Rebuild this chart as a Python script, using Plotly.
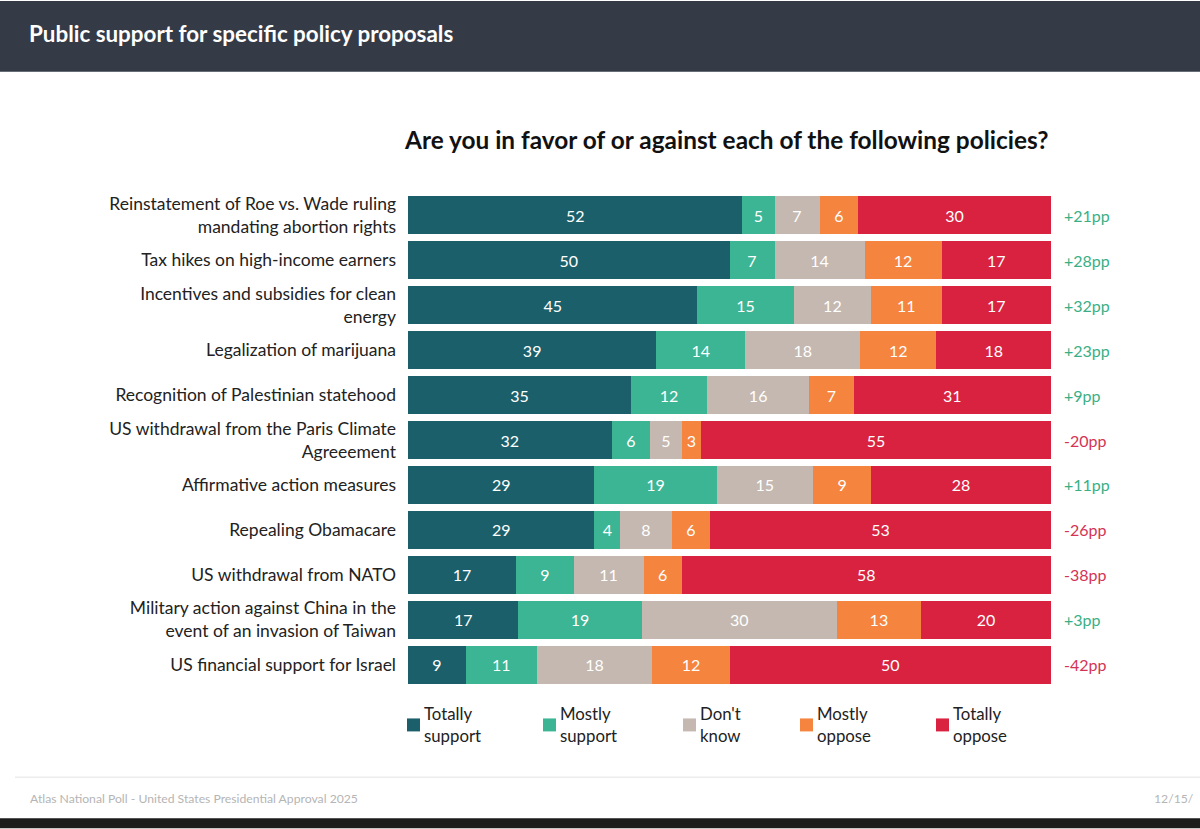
import plotly.graph_objects as go

# ---------------- data ----------------
policies = [
    "Reinstatement of Roe vs. Wade ruling<br>mandating abortion rights",
    "Tax hikes on high-income earners",
    "Incentives and subsidies for clean<br>energy",
    "Legalization of marijuana",
    "Recognition of Palestinian statehood",
    "US withdrawal from the Paris Climate<br>Agreeement",
    "Affirmative action measures",
    "Repealing Obamacare",
    "US withdrawal from NATO",
    "Military action against China in the<br>event of an invasion of Taiwan",
    "US financial support for Israel",
]
totally_support = [52, 50, 45, 39, 35, 32, 29, 29, 17, 17, 9]
mostly_support  = [5, 7, 15, 14, 12, 6, 19, 4, 9, 19, 11]
dont_know       = [7, 14, 12, 18, 16, 5, 15, 8, 11, 30, 18]
mostly_oppose   = [6, 12, 11, 12, 7, 3, 9, 6, 6, 13, 12]
totally_oppose  = [30, 17, 17, 18, 31, 55, 28, 53, 58, 20, 50]
net_pp          = [21, 28, 32, 23, 9, -20, 11, -26, -38, 3, -42]

series_names = ["Totally support", "Mostly support", "Don't know", "Mostly oppose", "Totally oppose"]
series_values = [totally_support, mostly_support, dont_know, mostly_oppose, totally_oppose]
series_colors = ["#1b5f6b", "#3bb594", "#c4b8b0", "#f5843e", "#d9223f"]

# ---------------- layout geometry (pixels) ----------------
W, H = 1200, 829
PL, PR = 408, 1051
PT, PB = 192.5, 687.5
FONT = "Lato"


def px(x):
    return (x - PL) / (PR - PL)


def py(y):
    return (PB - y) / (PB - PT)


fig = go.Figure()
for name, vals, col in zip(series_names, series_values, series_colors):
    fig.add_trace(go.Bar(
        y=policies, x=vals, name=name, orientation="h",
        marker=dict(color=col, line=dict(width=0)),
        text=vals, texttemplate="%{text}", textposition="inside",
        insidetextanchor="middle", textangle=0,
        textfont=dict(family=FONT, size=16, color="white"),
        showlegend=False, hoverinfo="skip",
    ))

annotations = []
shapes = []

# net labels
for pol, n in zip(policies, net_pp):
    annotations.append(dict(
        x=px(1062), y=pol, xref="paper", yref="y",
        text=("+%dpp" % n) if n > 0 else ("%dpp" % n),
        showarrow=False, xanchor="left", yanchor="middle",
        font=dict(family=FONT, size=16, color="#3aaf85" if n > 0 else "#d43355"),
    ))

# header bar
shapes.append(dict(type="rect", xref="paper", yref="paper",
                   x0=px(0), x1=px(W), y0=py(71), y1=py(0),
                   fillcolor="#343b47", line=dict(width=0), layer="below"))
annotations.append(dict(x=px(27), y=py(33), xref="paper", yref="paper",
                        text="<b>Public support for specific policy proposals</b>",
                        showarrow=False, xanchor="left", yanchor="middle",
                        font=dict(family=FONT, size=22.4, color="white")))

# chart title
annotations.append(dict(x=px(725.5), y=py(139), xref="paper", yref="paper",
                        text="<b>Are you in favor of or against each of the following policies?</b>",
                        showarrow=False, xanchor="center", yanchor="middle",
                        font=dict(family=FONT, size=24.4, color="#111111")))

# legend (manual)
legend_x = [407, 543, 683, 800, 936]
for lx, name, col in zip(legend_x, series_names, series_colors):
    shapes.append(dict(type="rect", xref="paper", yref="paper",
                       x0=px(lx), x1=px(lx + 13), y0=py(732), y1=py(719),
                       fillcolor=col, line=dict(width=0)))
    annotations.append(dict(x=px(lx + 15), y=py(725.5), xref="paper", yref="paper",
                            text=name.replace(" ", "<br>"), align="left",
                            showarrow=False, xanchor="left", yanchor="middle",
                            font=dict(family=FONT, size=16.8, color="#222222")))

# footer
shapes.append(dict(type="line", xref="paper", yref="paper",
                   x0=px(15), x1=px(W), y0=py(778), y1=py(778),
                   line=dict(color="#ececec", width=1.5)))
annotations.append(dict(x=px(28), y=py(799), xref="paper", yref="paper",
                        text="Atlas National Poll - United States Presidential Approval 2025",
                        showarrow=False, xanchor="left", yanchor="middle",
                        font=dict(family=FONT, size=12.2, color="#b5b5b5")))
annotations.append(dict(x=px(1196), y=py(799), xref="paper", yref="paper",
                        text="12/15/", showarrow=False, xanchor="right", yanchor="middle",
                        font=dict(family=FONT, size=12.2, color="#b5b5b5")))
shapes.append(dict(type="rect", xref="paper", yref="paper",
                   x0=px(0), x1=px(W), y0=py(H), y1=py(819),
                   fillcolor="#1c1c1c", line=dict(width=0)))

fig.update_layout(
    width=W, height=H,
    barmode="stack", barnorm="percent", bargap=0.155,
    margin=dict(l=PL, r=W - PR, t=PT, b=H - PB, pad=0),
    paper_bgcolor="white", plot_bgcolor="white",
    xaxis=dict(range=[0, 100], visible=False, fixedrange=True),
    yaxis=dict(autorange="reversed", showgrid=False, zeroline=False, showline=False,
               ticks="", ticklabelstandoff=11, fixedrange=True,
               tickfont=dict(family=FONT, size=17.5, color="#222222")),
    uniformtext=dict(minsize=16, mode="show"),
    annotations=annotations, shapes=shapes,
    font=dict(family=FONT),
)

fig.write_html("out.html", config={"displayModeBar": False},
               post_script="document.body.style.margin='0';document.body.style.overflow='hidden';")
